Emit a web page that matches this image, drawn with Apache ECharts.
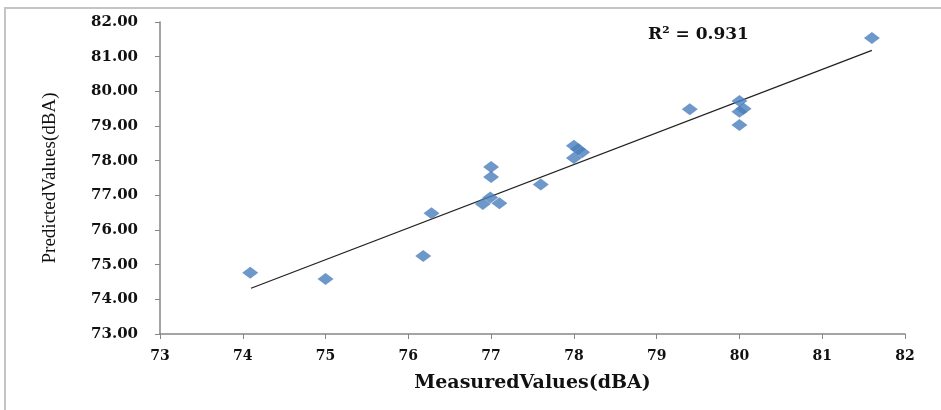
<!DOCTYPE html>
<html>
<head>
<meta charset="utf-8">
<script src="https://cdn.jsdelivr.net/npm/echarts@6/dist/echarts.min.js"></script>
<style>html,body{margin:0;padding:0;background:#fff}#c{width:941px;height:410px}</style>
</head>
<body>
<div id="c"></div>
<script>
const measured  = [74.09, 75.0, 76.28, 76.18, 76.9, 76.99, 77.1, 77.0, 77.0, 77.6, 78.0, 78.05, 78.1, 78.0, 79.4, 80.0, 80.05, 80.0, 80.0, 81.6];
const predicted = [74.77, 74.59, 76.48, 75.25, 76.75, 76.94, 76.77, 77.82, 77.53, 77.31, 78.43, 78.33, 78.24, 78.08, 79.48, 79.72, 79.5, 79.41, 79.03, 81.54];
const trendX = [74.1, 81.6];
const trendY = [74.32, 81.18];
const xTicks = [73, 74, 75, 76, 77, 78, 79, 80, 81, 82];
const yTicks = [73, 74, 75, 76, 77, 78, 79, 80, 81, 82];
const r2Label = 'R² = 0.931';

const points = measured.map((m, i) => [m, predicted[i]]);
const trend = trendX.map((x, i) => [x, trendY[i]]);
const serif = '"Liberation Serif", "Times New Roman", serif';
const wide = '"DejaVu Serif", serif';

const chart = echarts.init(document.getElementById('c'), null, {renderer: 'canvas'});
chart.setOption({
  animation: false,
  backgroundColor: '#fff',
  grid: {left: 160, right: 36, top: 22, bottom: 76},
  xAxis: {
    type: 'value', min: xTicks[0], max: xTicks[xTicks.length - 1], interval: 1,
    name: 'MeasuredValues(dBA)', nameLocation: 'middle', nameGap: 40,
    nameTextStyle: {fontFamily: wide, fontWeight: 'bold', fontSize: 19, color: '#111'},
    axisLine: {lineStyle: {color: '#868686', width: 1.5}},
    axisTick: {show: true, length: 5, inside: false, lineStyle: {color: '#868686'}},
    splitLine: {show: false},
    axisLabel: {fontFamily: wide, fontWeight: 'bold', fontSize: 14, color: '#111', margin: 15,
      formatter: v => String(v)}
  },
  yAxis: {
    type: 'value', min: yTicks[0], max: yTicks[yTicks.length - 1], interval: 1,
    name: 'PredictedValues(dBA)', nameLocation: 'middle', nameGap: 100, nameRotate: 90,
    nameTextStyle: {fontFamily: serif, fontSize: 19, color: '#111', fontWeight: 'normal'},
    axisLine: {show: true, lineStyle: {color: '#868686', width: 1.5}},
    axisTick: {show: true, length: 5, inside: false, lineStyle: {color: '#868686'}},
    splitLine: {show: false},
    axisLabel: {fontFamily: wide, fontWeight: 'bold', fontSize: 15, color: '#111', margin: 22,
      formatter: v => v.toFixed(2)}
  },
  graphic: [
    {type: 'rect', silent: true, z: -1, shape: {x: 5, y: 8, width: 950, height: 420},
      style: {fill: 'none', stroke: '#c4c4c4', lineWidth: 2}},
    {type: 'text', left: 648, top: 26, style: {text: r2Label, font: 'bold 17px ' + wide, fill: '#111'}}
  ],
  series: [
    {type: 'line', data: trend, symbol: 'none', lineStyle: {color: '#222', width: 1.3}, z: 2},
    {type: 'scatter', data: points, symbol: 'diamond', symbolSize: [16, 12],
      itemStyle: {color: '#4a7ebb'}, z: 3}
  ]
});
</script>
</body>
</html>
